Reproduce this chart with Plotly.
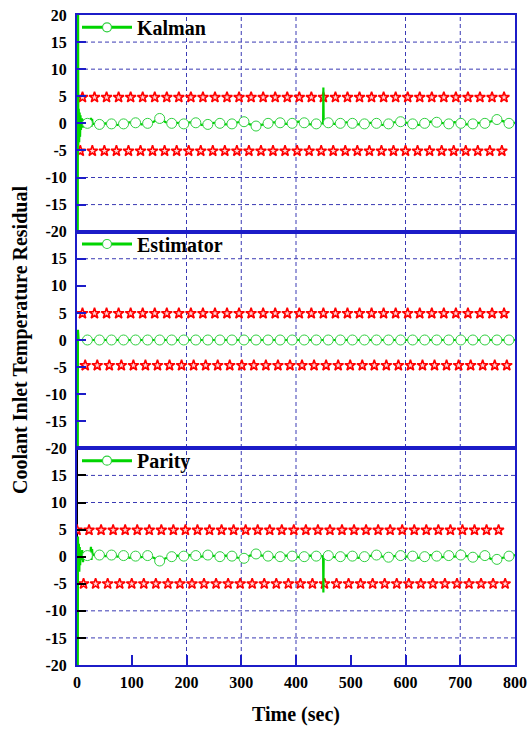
import plotly.graph_objects as go
from plotly.subplots import make_subplots

# ---------------- data ----------------
# regular sample times of the residual traces (sec)
GRID_T = [8, 19, 30, 41, 52, 63, 74, 85, 96, 107, 118, 129, 140, 151, 162, 173,
          184, 195, 206, 217, 228, 239, 250, 261, 272, 283, 294, 305, 316, 327,
          338, 349, 360, 371, 382, 393, 404, 415, 426, 437, 448, 459, 470, 481,
          492, 503, 514, 525, 536, 547, 558, 569, 580, 591, 602, 613, 624, 635,
          646, 657, 668, 679, 690, 701, 712, 723, 734, 745, 756, 767, 778, 789, 800]
# sample times that carry a circle symbol
CIRCLE_T = [19, 41, 63, 85, 107, 129, 151, 173, 195, 217, 239, 261, 283, 305,
            327, 349, 371, 393, 415, 437, 459, 481, 503, 525, 547, 569, 591, 613,
            635, 657, 679, 701, 723, 745, 767, 789]

# Kalman filter residual
KALMAN_START_T = [1.3, 1.8, 2.4, 3.2, 4.0, 4.8, 5.6, 6.4, 7.2]
KALMAN_START_Y = [-30, 30, -4.0, 2.7, -3.5, 2.0, -2.5, 1.5, -1.2]
KALMAN_EVENT_T = [9.0, 10.5, 12.0, 24.0, 25.5, 26.5, 27.5, 28.5,
                  449.5, 450.0, 450.6, 451.2, 451.8]
KALMAN_EVENT_Y = [0.9, -0.8, 0.5, 0.2, 1.0, -0.6, 0.8, 0.0,
                  0.0, 6.6, -0.2, 6.0, 0.0]
KALMAN_Y = [0.3, 0.0, -0.1, -0.2, 0.0, -0.1, -0.3, -0.1, 0.2, 0.1, -0.2, 0.0,
            0.3, 0.9, 0.2, 0.0, 0.1, -0.1, 0.2, 0.1, -0.3, -0.2, 0.1, 0.0,
            -0.2, -0.1, 0.2, 0.3, -0.2, -0.5, -0.2, 0.0, 0.2, 0.1, -0.1, 0.0,
            0.3, 0.1, -0.2, -0.1, 0.0, 0.1, -0.1, 0.0, 0.2, 0.0, -0.2, -0.1,
            0.1, 0.0, -0.3, -0.1, 0.2, 0.3, 0.1, -0.1, -0.3, 0.0, 0.3, 0.2,
            0.0, -0.1, 0.2, 0.0, -0.2, -0.1, 0.1, 0.0, 0.3, 0.7, 0.4, 0.0, 0.1]

# observer (estimator) residual
ESTIMATOR_START_T = [1.3, 1.7, 3.0]
ESTIMATOR_START_Y = [-30, 1.9, 0.0]
ESTIMATOR_EVENT_T = []
ESTIMATOR_EVENT_Y = []
ESTIMATOR_Y = [0.0, 0.0, 0.0, 0.0, 0.0, 0.0, 0.0, 0.0, 0.0, 0.0, 0.0, 0.0,
               0.0, 0.0, 0.0, 0.0, 0.0, 0.0, 0.0, 0.0, 0.0, 0.0, 0.0, 0.0,
               0.0, 0.0, 0.0, 0.0, 0.0, 0.0, 0.0, 0.0, 0.0, 0.0, 0.0, 0.0,
               0.0, 0.0, 0.0, 0.0, 0.0, 0.0, 0.0, 0.0, 0.0, 0.0, 0.0, 0.0,
               0.0, 0.0, 0.0, 0.0, 0.0, 0.0, 0.0, 0.0, 0.0, 0.0, 0.0, 0.0,
               0.0, 0.0, 0.0, 0.0, 0.0, 0.0, 0.0, 0.0, 0.0, 0.0, 0.0, 0.0, 0.0]

# parity-space residual
PARITY_START_T = [1.3, 1.8, 2.6, 3.4, 4.2, 5.0, 5.8, 6.7, 7.5]
PARITY_START_Y = [-30, 3.7, -2.5, 2.4, -2.8, 1.8, -1.6, 1.0, -0.6]
PARITY_EVENT_T = [9.5, 11.0, 12.5, 24.0, 25.5, 26.5, 27.5, 28.5,
                  449.5, 450.0, 450.6, 451.2, 451.8]
PARITY_EVENT_Y = [1.2, -1.0, 0.6, 0.3, 1.8, -0.6, 1.4, 0.2,
                  0.1, -6.6, 0.2, -6.0, 0.1]
PARITY_Y = [0.5, 0.2, 0.4, 0.3, 0.1, 0.3, 0.0, 0.2, -0.2, 0.1, -0.1, 0.2,
            -0.2, -0.8, -0.3, 0.0, 0.2, 0.1, 0.3, 0.2, 0.0, 0.3, 0.1, 0.0,
            0.2, 0.1, -0.2, -0.3, 0.2, 0.5, 0.2, 0.1, -0.1, 0.0, 0.2, 0.1,
            -0.1, 0.0, 0.2, 0.1, 0.1, 0.2, -0.1, 0.0, 0.2, 0.1, -0.2, 0.0,
            0.2, 0.3, 0.0, -0.1, 0.1, 0.2, 0.0, 0.1, -0.2, 0.0, 0.3, 0.1,
            -0.1, 0.2, 0.0, 0.3, 0.1, -0.1, 0.0, 0.2, -0.4, -0.5, -0.2, 0.1, 0.3]

# threshold symbols (upper / lower) for each method
KALMAN_UPPER_T = [10, 32, 54, 76, 98, 120, 142, 164, 186, 208, 230, 252, 274, 296,
                  318, 340, 362, 384, 406, 428, 450, 472, 494, 516, 538, 560, 582,
                  604, 626, 648, 670, 692, 714, 736, 758, 780]
KALMAN_LOWER_T = [6, 28, 50, 72, 94, 116, 138, 160, 182, 204, 226, 248, 270, 292,
                  314, 336, 358, 380, 402, 424, 446, 468, 490, 512, 534, 556, 578,
                  600, 622, 644, 666, 688, 710, 732, 754, 776]
ESTIMATOR_UPPER_T = [10, 32, 54, 76, 98, 120, 142, 164, 186, 208, 230, 252, 274, 296,
                     318, 340, 362, 384, 406, 428, 450, 472, 494, 516, 538, 560, 582,
                     604, 626, 648, 670, 692, 714, 736, 758, 780]
ESTIMATOR_LOWER_T = [15, 37, 59, 81, 103, 125, 147, 169, 191, 213, 235, 257, 279, 301,
                     323, 345, 367, 389, 411, 433, 455, 477, 499, 521, 543, 565, 587,
                     609, 631, 653, 675, 697, 719, 741, 763, 785]
PARITY_UPPER_T = [0, 22, 44, 66, 88, 110, 132, 154, 176, 198, 220, 242, 264, 286,
                  308, 330, 352, 374, 396, 418, 440, 462, 484, 506, 528, 550, 572,
                  594, 616, 638, 660, 682, 704, 726, 748, 770]
PARITY_LOWER_T = [12, 34, 56, 78, 100, 122, 144, 166, 188, 210, 232, 254, 276, 298,
                  320, 342, 364, 386, 408, 430, 452, 474, 496, 518, 540, 562, 584,
                  606, 628, 650, 672, 694, 716, 738, 760, 782]
KALMAN_LIMITS = [4.8, -5.1]
ESTIMATOR_LIMITS = [4.9, -4.7]
PARITY_LIMITS = [4.9, -5.0]

METHODS = ["Kalman", "Estimator", "Parity"]
X_TICKS = [0, 100, 200, 300, 400, 500, 600, 700, 800]
Y_TICKS = [-20, -15, -10, -5, 0, 5, 10, 15, 20]
X_GRID = [200, 300, 400, 600, 700]
Y_GRID = [[-15, -10, 10, 15], [15], [-15, -10, 10, 15]]

# ---------------- styling ----------------
BLUE = "#1c1cc8"
GRID_BLUE = "#3a3ab4"
GREEN = "#00d400"
CIRCLE_GREEN = "#30d040"
RED = "#ff0000"
SERIF = "Liberation Serif"


def merge(start_t, start_y, grid_y, event_t, event_y):
    pts = list(zip(start_t, start_y)) + list(zip(GRID_T, grid_y)) + list(zip(event_t, event_y))
    pts.sort(key=lambda p: p[0])
    return [p[0] for p in pts], [p[1] for p in pts]


panels = [
    (KALMAN_START_T, KALMAN_START_Y, KALMAN_Y, KALMAN_EVENT_T, KALMAN_EVENT_Y,
     KALMAN_UPPER_T, KALMAN_LOWER_T, KALMAN_LIMITS),
    (ESTIMATOR_START_T, ESTIMATOR_START_Y, ESTIMATOR_Y, ESTIMATOR_EVENT_T, ESTIMATOR_EVENT_Y,
     ESTIMATOR_UPPER_T, ESTIMATOR_LOWER_T, ESTIMATOR_LIMITS),
    (PARITY_START_T, PARITY_START_Y, PARITY_Y, PARITY_EVENT_T, PARITY_EVENT_Y,
     PARITY_UPPER_T, PARITY_LOWER_T, PARITY_LIMITS),
]

fig = make_subplots(rows=3, cols=1, shared_xaxes=True, vertical_spacing=0)

legend_names = ["legend", "legend2", "legend3"]
for i, (st, sy, gy, et, ey, ut, lt, lim) in enumerate(panels):
    row = i + 1
    # threshold stars
    for times, level in ((ut, lim[0]), (lt, lim[1])):
        fig.add_trace(go.Scatter(
            x=times, y=[level] * len(times), mode="markers", showlegend=False,
            marker=dict(symbol="star", size=8, color="#ffd8d8",
                        line=dict(color=RED, width=1.6)),
            hoverinfo="skip"), row=row, col=1)
    # residual line
    lt_, ly_ = merge(st, sy, gy, et, ey)
    fig.add_trace(go.Scatter(
        x=lt_, y=ly_, mode="lines", showlegend=False,
        line=dict(color=GREEN, width=2.2), hoverinfo="skip"), row=row, col=1)
    # circle symbols on the residual
    ct = [t for t in GRID_T if t in CIRCLE_T]
    cy = [y for t, y in zip(GRID_T, gy) if t in CIRCLE_T]
    fig.add_trace(go.Scatter(
        x=ct, y=cy, mode="markers", showlegend=False,
        marker=dict(symbol="circle", size=10, color="white",
                    line=dict(color=CIRCLE_GREEN, width=1.0)),
        hoverinfo="skip"), row=row, col=1)
    # legend entry
    fig.add_trace(go.Scatter(
        x=[None], y=[None], mode="lines+markers", name=METHODS[i],
        legend=legend_names[i],
        line=dict(color=GREEN, width=3),
        marker=dict(symbol="circle", size=9, color="white",
                    line=dict(color=CIRCLE_GREEN, width=1.2))), row=row, col=1)

tick_font = dict(family=SERIF, size=16, color="black", weight="bold")

for i in range(3):
    row = i + 1
    labels = [str(v) for v in Y_TICKS]
    if i > 0:
        labels[-1] = ""
    fig.update_yaxes(
        range=[-20, 20], tickvals=Y_TICKS, ticktext=labels, ticks="inside",
        ticklen=9, tickwidth=1.5, tickcolor=BLUE if i < 2 else "black",
        showline=True, linecolor=BLUE, linewidth=2, mirror=True,
        showgrid=False, zeroline=False, tickfont=tick_font, automargin=False,
        ticklabelstandoff=5, row=row, col=1)
    fig.update_xaxes(
        range=[0, 800], tickvals=X_TICKS, ticks="inside" if row == 3 else "",
        ticklen=10, tickwidth=1.5, tickcolor=BLUE,
        showticklabels=(row == 3), showline=True, linecolor=BLUE, linewidth=2,
        mirror=True, showgrid=False, zeroline=False, tickfont=tick_font,
        automargin=False, ticklabelstandoff=2, row=row, col=1)

# dashed grid lines
shapes = []
for xv in X_GRID:
    shapes.append(dict(type="line", xref="x3", yref="paper", x0=xv, x1=xv, y0=0, y1=1,
                       line=dict(color=GRID_BLUE, width=1, dash="4px,3px"), layer="below"))
yrefs = ["y", "y2", "y3"]
for i, vals in enumerate(Y_GRID):
    for yv in vals:
        shapes.append(dict(type="line", xref="paper", yref=yrefs[i], x0=0, x1=1, y0=yv, y1=yv,
                           line=dict(color=GRID_BLUE, width=1, dash="4px,3px"), layer="below"))
# dark left spine of the parity panel
shapes.append(dict(type="line", xref="paper", yref="y3 domain", x0=0, x1=0, y0=0, y1=1,
                   line=dict(color="black", width=2), layer="below"))
fig.update_layout(shapes=shapes)

legend_font = dict(family=SERIF, size=20, color="black", weight="bold")
tops = [1.0, 2 / 3, 1 / 3]
layout_legends = {}
for name, top in zip(legend_names, tops):
    layout_legends[name] = dict(x=0.0, y=top + 0.011, xanchor="left", yanchor="top",
                                bgcolor="rgba(0,0,0,0)", borderwidth=0,
                                font=legend_font, itemwidth=50, itemclick=False)
fig.update_layout(**layout_legends)

fig.add_annotation(text="Coolant Inlet Temperature Residual", xref="paper", yref="paper",
                   x=0, y=0.5, xanchor="center", yanchor="middle", xshift=-57,
                   textangle=-90, showarrow=False,
                   font=dict(family=SERIF, size=20, color="black", weight="bold"))
fig.add_annotation(text="Time (sec)", xref="paper", yref="paper",
                   x=0.5, y=0, xanchor="center", yanchor="middle", yshift=-49,
                   showarrow=False,
                   font=dict(family=SERIF, size=20, color="black", weight="bold"))

fig.update_layout(
    width=529, height=731,
    margin=dict(l=77, r=14, t=15, b=66, autoexpand=False),
    paper_bgcolor="white", plot_bgcolor="white",
)

fig.write_html("out.html")
